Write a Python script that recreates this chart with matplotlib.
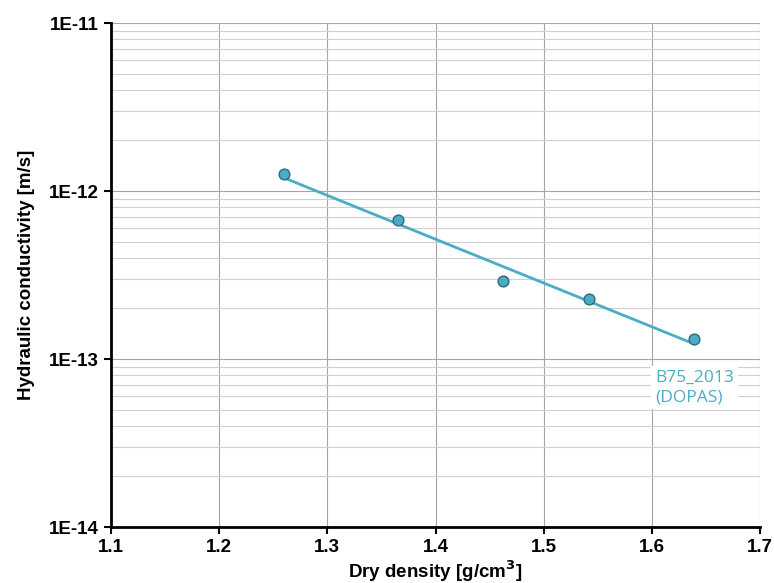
import numpy as np
import matplotlib
matplotlib.use("Agg")
import matplotlib.pyplot as plt
from matplotlib.ticker import FixedLocator, LogLocator, NullFormatter

plt.rcParams['font.family'] = ['Liberation Sans', 'DejaVu Sans']

# data
dry_density = [1.26, 1.365, 1.462, 1.542, 1.639]
conductivity = [1.26e-12, 6.7e-13, 2.9e-13, 2.28e-13, 1.32e-13]
series_label = "B75_2013\n(DOPAS)"
x_ticks = [1.1, 1.2, 1.3, 1.4, 1.5, 1.6, 1.7]
y_ticks = [1e-14, 1e-13, 1e-12, 1e-11]
y_tick_labels = ["1E-14", "1E-13", "1E-12", "1E-11"]

teal = "#4BACC6"

fig = plt.figure(figsize=(7.74, 5.83), dpi=100)
ax = fig.add_axes([0.1434, 0.096, 0.8386, 0.8645])

# exponential trendline (as Excel does it)
coef = np.polyfit(dry_density, np.log(conductivity), 1)
xt = np.linspace(min(dry_density), max(dry_density), 50)
ax.plot(xt, np.exp(np.polyval(coef, xt)), color=teal, lw=2, zorder=3)

ax.scatter(dry_density, conductivity, s=60, color=teal, edgecolor="#2E6A78",
           linewidth=1, zorder=4)

ax.set_yscale("log")
ax.set_xlim(1.1, 1.7)
ax.set_ylim(1e-14, 1e-11)
ax.xaxis.set_major_locator(FixedLocator(x_ticks))
ax.set_xticklabels([f"{v:.1f}" for v in x_ticks])
ax.yaxis.set_major_locator(FixedLocator(y_ticks))
ax.set_yticklabels(y_tick_labels)
ax.yaxis.set_minor_locator(LogLocator(base=10, subs=np.arange(2, 10)))
ax.yaxis.set_minor_formatter(NullFormatter())

ax.grid(True, which="major", axis="both", color="#A6A6A6", lw=0.8)
ax.grid(True, which="minor", axis="y", color="#D0D0D0", lw=0.8)
ax.set_axisbelow(True)

for s in ["top", "right"]:
    ax.spines[s].set_visible(False)
for s in ["left", "bottom"]:
    ax.spines[s].set_linewidth(2)
    ax.spines[s].set_color("black")
ax.tick_params(axis="both", which="major", direction="out", length=5, width=1.5,
               labelsize=13.5)
ax.tick_params(axis="y", which="minor", length=0)
for lab in ax.get_xticklabels() + ax.get_yticklabels():
    lab.set_fontweight("bold")

ax.set_xlabel("Dry density [g/cm$^\\mathbf{3}$]", fontsize=13.5, fontweight="bold",
              labelpad=2)
ax.set_ylabel("Hydraulic conductivity [m/s]", fontsize=13.5, fontweight="bold",
              labelpad=10)

ax.text(1.603, 8.6e-14, series_label, color=teal, fontsize=12.5,
        family=["Open Sans", "DejaVu Sans"], va="top", ha="left", linespacing=1.25,
        bbox=dict(facecolor="white", edgecolor="none", pad=3), zorder=5)

fig.savefig("out.png", dpi=100)
